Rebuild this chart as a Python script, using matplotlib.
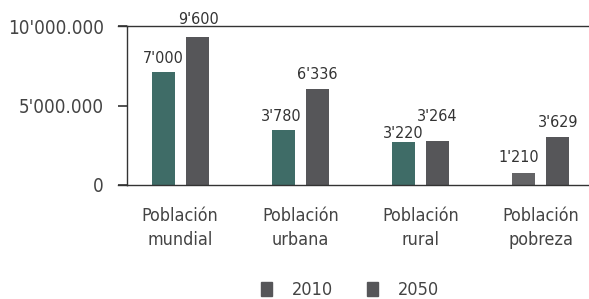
import numpy as np
import matplotlib.pyplot as plt

categories = ["Población\nmundial", "Población\nurbana", "Población\nrural", "Población\npobreza"]
series = ["2010", "2050"]
# bar heights as drawn in the picture
heights_2010 = [7090, 3460, 2685, 775]
heights_2050 = [9330, 6040, 2790, 3040]
# printed value labels
labels_2010 = ["7'000", "3'780", "3'220", "1'210"]
labels_2050 = ["9'600", "6'336", "3'264", "3'629"]
yticks = [0, 5000, 10000]
ytick_labels = ["0", "5'000.000", "10'000.000"]

teal = '#3f6c67'
gray = '#565659'
colors_2010 = [teal, teal, teal, '#646466']

plt.rcParams['font.family'] = ['DejaVu Sans']
plt.rcParams['font.stretch'] = 'condensed'

fig = plt.figure(figsize=(5.89, 2.99), dpi=100)
ax = fig.add_axes([127/589, 1 - 185/299, 1 - 127/589 + 0.01, (185 - 26)/299])

x = np.arange(len(categories))
off = 17/120
w = 23/120
ax.bar(x - off, heights_2010, w, color=colors_2010)
ax.bar(x + off, heights_2050, w, color=gray)

# label offsets (dx in data units, dy in value units)
dx_2010 = [0.0, -0.02, 0.0, -0.04]
dy_2010 = [420, 350, 100, 480]
dx_2050 = [0.01, 0.0, 0.0, 0.0]
dy_2050 = [600, 420, 1050, 420]
for i in range(len(categories)):
    ax.text(x[i] - off + dx_2010[i], heights_2010[i] + dy_2010[i], labels_2010[i],
            ha='center', va='bottom', fontsize=11.5, color='#333333')
    ax.text(x[i] + off + dx_2050[i], heights_2050[i] + dy_2050[i], labels_2050[i],
            ha='center', va='bottom', fontsize=11.5, color='#333333')

ax.set_xlim(-53/120, 3.45)
ax.set_ylim(0, 10000)
ax.set_yticks(yticks)
ax.set_yticklabels(ytick_labels, fontsize=13.5, color='#444444')
ax.tick_params(axis='y', length=6.5, width=1.2, color='#333333', pad=10)
ax.set_xticks(x)
ax.set_xticklabels(categories, fontsize=12.9, color='#444444', linespacing=1.4)
ax.tick_params(axis='x', length=0, pad=16)

ax.spines['right'].set_visible(False)
for s in ['left', 'top', 'bottom']:
    ax.spines[s].set_color('#333333')
    ax.spines[s].set_linewidth(1.0)
# extend top/bottom lines leftwards like the tick marks
ax.plot([-0.44 - 9/120, -0.44], [10000, 10000], color='#333333', lw=1.0, clip_on=False)
ax.plot([-0.44 - 9/120, -0.44], [0, 0], color='#333333', lw=1.0, clip_on=False)

handles = [plt.Rectangle((0, 0), 1, 1, color=gray) for _ in series]
fig.legend(handles, series, loc='center', bbox_to_anchor=(350/589, 1 - 290/299),
           ncol=2, frameon=False, fontsize=13, handlelength=0.61, handleheight=0.8,
           columnspacing=1.9, handletextpad=1.1, labelcolor='#444444')

fig.savefig('out.png', dpi=100)
